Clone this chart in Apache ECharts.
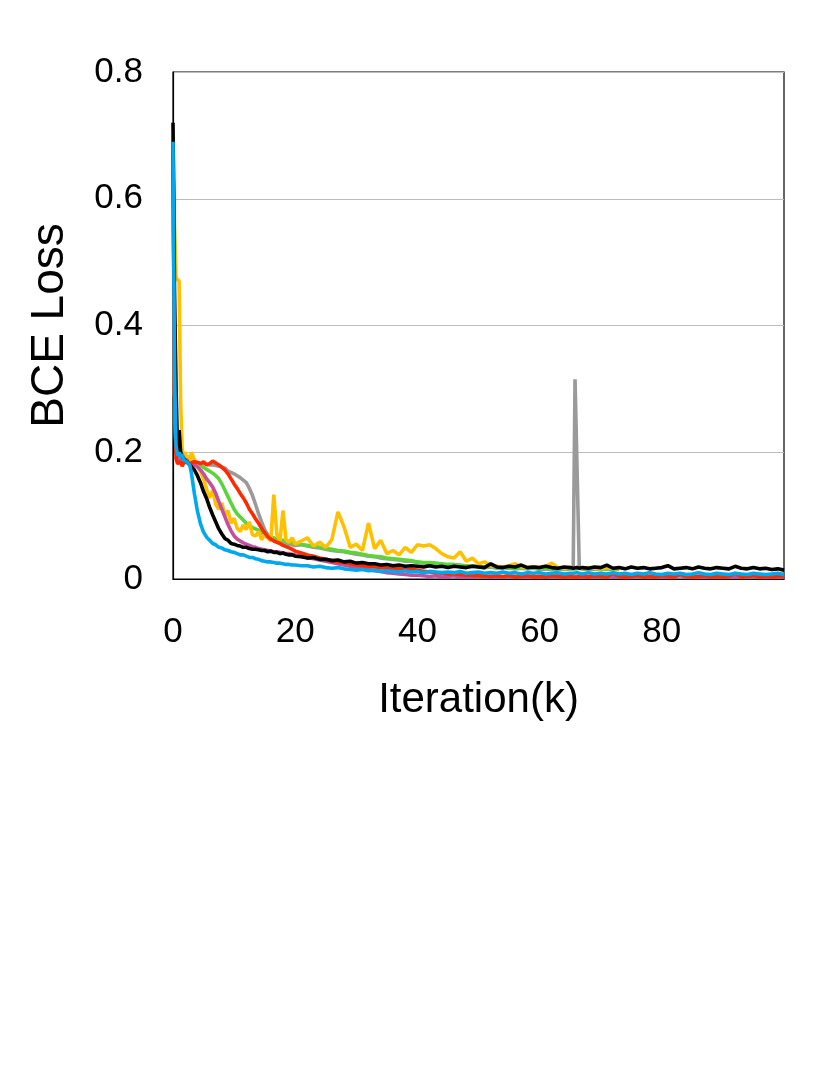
<!DOCTYPE html>
<html>
<head>
<meta charset="utf-8">
<script src="https://cdn.jsdelivr.net/npm/echarts@6/dist/echarts.min.js"></script>
<style>
html,body{margin:0;padding:0;background:#fff;}
#chart{width:830px;height:1075px;}
</style>
</head>
<body>
<div id="chart"></div>
<script>
// iteration (k) sample positions shared by all series
const iters = [0,0.25,0.5,0.75,1,1.25,1.5,1.75,2,2.25,2.5,2.75,3,
  3.5,4,4.5,5,5.5,6,6.5,7,7.5,8,8.5,9,9.5,10,10.5,11,11.5,12,12.5,13,13.5,14,14.5,15,15.5,16,16.5,17,17.5,18,18.5,19,19.5,20,
  21,22,23,24,25,26,27,28,29,30,31,32,33,34,35,36,37,38,39,40,41,42,43,44,45,46,47,48,49,50,51,52,53,54,55,56,57,58,59,60,61,62,63,64,65,
  65.5,65.8,66.1,66.5,
  67,68,69,70,71,72,73,74,75,76,77,78,79,80,81,82,83,84,85,86,87,88,89,90,91,92,93,94,95,96,97,98,99,100];

const xTicks = [0,20,40,60,80];
const yTicks = [0,0.2,0.4,0.6,0.8];

const N27 = [null,null,null,null,null,null,null,null,null,null,null,null,null,null,null,null,null,null,null,null,null,null,null,null,null,null,null];

const lossGray = [0.69,0.3,0.2,0.19,0.19,0.188,0.186,0.185,0.184,0.186,0.185,0.183,0.184,
  0.183,0.184,0.182,0.183,0.181,0.18,0.18,0.179,0.178,0.177,0.175,0.17,0.168,0.166,0.163,0.16,0.156,0.152,0.143,0.132,0.118,0.103,0.09,0.078,0.07,0.065,0.062,0.06,0.058,0.057,0.056,0.055,0.054,0.053,
  0.054,0.052,0.05,0.049,0.047,0.045,0.044,0.043,0.041,0.039,0.038,0.036,0.035,0.033,0.032,0.031,0.03,0.028,0.028,0.026,0.025,0.025,0.024,0.023,0.022,0.022,0.021,0.02,0.02,0.019,0.018,0.019,0.017,0.018,0.017,0.016,0.017,0.016,0.017,0.015,0.016,0.015,0.016,0.015,0.016,
  0.016,0.315,0.315,0.017,
  0.016,0.015,0.016,0.015,0.016,0.015,0.015].concat(N27);

const lossGreen = [0.68,0.3,0.2,0.195,0.19,0.195,0.19,0.192,0.188,0.19,0.186,0.188,0.185,
  0.184,0.182,0.18,0.176,0.173,0.17,0.167,0.163,0.158,0.15,0.14,0.13,0.12,0.11,0.103,0.098,0.093,0.088,0.085,0.081,0.079,0.077,0.073,0.07,0.068,0.066,0.065,0.063,0.062,0.061,0.06,0.058,0.057,0.056,
  0.055,0.053,0.052,0.05,0.048,0.047,0.045,0.044,0.042,0.041,0.039,0.037,0.036,0.035,0.033,0.032,0.031,0.03,0.029,0.027,0.026,0.026,0.025,0.024,0.023,0.023,0.022,0.021,0.021,0.02,0.019,0.02,0.018,0.019,0.018,0.017,0.018,0.017,0.018,0.016,0.017,0.016,0.017,0.016,0.017,
  0.016,0.017,0.016,0.017,
  0.016,0.017,0.016,0.015,0.016,0.015,0.016].concat(N27);

const lossYellow = [0.70,0.56,0.475,0.475,0.47,0.28,0.205,0.195,0.2,0.19,0.195,0.185,0.2,
  0.188,0.178,0.17,0.158,0.142,0.128,0.14,0.118,0.11,0.12,0.1,0.108,0.088,0.096,0.08,0.075,0.085,0.078,0.09,0.07,0.068,0.075,0.062,0.07,0.065,0.06,0.133,0.07,0.06,0.108,0.062,0.058,0.065,0.055,
  0.06,0.065,0.052,0.058,0.05,0.062,0.106,0.082,0.05,0.055,0.045,0.088,0.048,0.061,0.04,0.045,0.038,0.05,0.042,0.054,0.052,0.054,0.048,0.04,0.035,0.033,0.043,0.028,0.033,0.024,0.027,0.021,0.02,0.019,0.021,0.024,0.019,0.018,0.019,0.018,0.02,0.025,0.018,0.017,0.018,
  0.017,0.018,0.017,0.018,
  0.017,0.018,0.017,0.016,0.018,0.017,0.016].concat(N27);

const lossPink = [0.69,0.3,0.2,0.19,0.188,0.185,0.19,0.186,0.184,0.188,0.183,0.185,0.182,
  0.18,0.177,0.172,0.166,0.158,0.152,0.145,0.135,0.122,0.11,0.098,0.086,0.076,0.068,0.063,0.06,0.057,0.055,0.053,0.051,0.05,0.048,0.047,0.046,0.045,0.044,0.043,0.043,0.042,0.041,0.04,0.04,0.039,0.038,
  0.036,0.034,0.032,0.03,0.028,0.026,0.024,0.022,0.02,0.019,0.017,0.015,0.013,0.012,0.01,0.009,0.008,0.007,0.006,0.006,0.005,0.004,0.005,0.003,0.004,0.005,0.003,0.004,0.003,0.005,0.004,0.003,0.004,0.003,0.005,0.003,0.004,0.003,0.004,0.003,0.004,0.003,0.005,0.003,0.004,
  0.003,0.004,0.003,0.004,
  0.003,0.004,0.003,0.005,0.003,0.004,0.003,0.004,0.003,0.005,0.003,0.004,0.003,0.004,0.003,0.004,0.005,0.003,0.004,0.003,0.004,0.003,0.005,0.003,0.004,0.003,0.004,0.003,0.005,0.003,0.004,0.003,0.004,0.003];

const lossRed = [0.69,0.3,0.19,0.182,0.18,0.185,0.178,0.183,0.18,0.186,0.182,0.185,0.183,
  0.185,0.184,0.182,0.185,0.18,0.182,0.186,0.183,0.18,0.176,0.172,0.166,0.158,0.15,0.143,0.135,0.128,0.12,0.11,0.103,0.095,0.088,0.08,0.073,0.067,0.063,0.06,0.058,0.056,0.053,0.051,0.049,0.047,0.044,
  0.041,0.038,0.036,0.033,0.031,0.029,0.027,0.026,0.024,0.022,0.021,0.02,0.019,0.018,0.017,0.017,0.016,0.015,0.015,0.014,0.012,0.011,0.01,0.009,0.008,0.008,0.007,0.006,0.006,0.005,0.005,0.004,0.005,0.004,0.005,0.003,0.004,0.005,0.003,0.004,0.003,0.005,0.004,0.003,0.004,
  0.003,0.004,0.003,0.004,
  0.004,0.003,0.005,0.004,0.003,0.009,0.004,0.003,0.004,0.005,0.003,0.004,0.003,0.005,0.004,0.003,0.008,0.004,0.003,0.004,0.005,0.003,0.004,0.003,0.004,0.009,0.003,0.004,0.005,0.003,0.004,0.003,0.004,0.005];

const lossBlack = [0.72,0.45,0.3,0.2,0.235,0.2,0.195,0.19,0.188,0.185,0.183,0.18,0.178,
  0.172,0.163,0.152,0.138,0.127,0.113,0.101,0.09,0.079,0.071,0.064,0.061,0.056,0.055,0.053,0.052,0.05,0.05,0.048,0.047,0.047,0.046,0.045,0.045,0.043,0.044,0.042,0.042,0.04,0.041,0.039,0.038,0.038,0.036,
  0.035,0.033,0.034,0.031,0.031,0.029,0.03,0.027,0.028,0.025,0.026,0.024,0.024,0.022,0.023,0.021,0.022,0.02,0.021,0.02,0.019,0.021,0.019,0.02,0.018,0.02,0.019,0.018,0.02,0.019,0.018,0.024,0.019,0.018,0.02,0.019,0.022,0.018,0.019,0.018,0.02,0.018,0.017,0.019,0.018,
  0.017,0.019,0.018,0.017,
  0.018,0.017,0.019,0.018,0.022,0.017,0.018,0.016,0.019,0.017,0.018,0.016,0.017,0.018,0.021,0.016,0.017,0.018,0.016,0.019,0.017,0.016,0.018,0.017,0.016,0.02,0.017,0.016,0.018,0.016,0.017,0.015,0.016,0.014];

const lossBlue = [0.69,0.33,0.21,0.195,0.2,0.192,0.197,0.188,0.19,0.185,0.188,0.18,0.168,
  0.135,0.107,0.087,0.074,0.066,0.061,0.056,0.054,0.05,0.049,0.046,0.045,0.043,0.042,0.04,0.038,0.038,0.036,0.034,0.034,0.032,0.031,0.029,0.028,0.027,0.027,0.026,0.025,0.025,0.024,0.023,0.023,0.022,0.022,
  0.021,0.021,0.019,0.02,0.018,0.017,0.018,0.016,0.015,0.014,0.015,0.013,0.014,0.012,0.013,0.012,0.011,0.013,0.011,0.012,0.01,0.012,0.011,0.01,0.011,0.01,0.012,0.009,0.01,0.011,0.009,0.01,0.009,0.011,0.009,0.01,0.008,0.01,0.009,0.01,0.008,0.009,0.01,0.008,0.009,
  0.009,0.008,0.01,0.009,
  0.008,0.01,0.008,0.009,0.008,0.01,0.008,0.009,0.007,0.009,0.008,0.01,0.008,0.007,0.009,0.008,0.009,0.007,0.008,0.01,0.008,0.007,0.009,0.008,0.007,0.009,0.008,0.007,0.009,0.008,0.007,0.008,0.009,0.007];

const seriesDefs = [
  {name:'gray', color:'#9A9A9A', values:lossGray},
  {name:'green', color:'#5CD43A', values:lossGreen},
  {name:'yellow', color:'#FFC000', values:lossYellow},
  {name:'pink', color:'#C2509C', values:lossPink},
  {name:'red', color:'#FF2A00', values:lossRed},
  {name:'black', color:'#000000', values:lossBlack},
  {name:'blue', color:'#00A8F0', values:lossBlue}
];

const chart = echarts.init(document.getElementById('chart'), null, {renderer:'canvas'});
const FONT = '"Liberation Sans", Arial, Helvetica, sans-serif';

chart.setOption({
  animation:false,
  backgroundColor:'#ffffff',
  grid:{left:173, right:46, top:72, bottom:496, show:true, borderColor:'#000', borderWidth:1.2, backgroundColor:'transparent'},
  xAxis:{
    type:'value', min:0, max:100, interval:20,
    name:'Iteration(k)', nameLocation:'middle', nameGap:100,
    nameTextStyle:{fontSize:42, color:'#000', fontFamily:FONT},
    axisLine:{show:true, onZero:false, lineStyle:{color:'#000', width:1.2}},
    axisTick:{show:false},
    splitLine:{show:false},
    axisLabel:{fontSize:35, color:'#000', fontFamily:FONT, margin:36, showMaxLabel:false,
      formatter:function(v){return xTicks.indexOf(v)>=0 ? String(v) : '';}}
  },
  yAxis:{
    type:'value', min:0, max:0.8, interval:0.2,
    name:'BCE Loss', nameLocation:'middle', nameGap:100,
    nameTextStyle:{fontSize:46, color:'#000', fontFamily:FONT},
    axisLine:{show:true, lineStyle:{color:'#000', width:1.2}},
    axisTick:{show:false},
    splitLine:{show:true, lineStyle:{color:'#BDBDBD', width:1.2}},
    axisLabel:{fontSize:35, color:'#000', fontFamily:FONT, margin:30,
      formatter:function(v){
        for (const t of yTicks) { if (Math.abs(t-v)<1e-9) return String(t); }
        return '';
      }}
  },
  series: seriesDefs.map(function(s){
    return {
      name:s.name, type:'line', symbol:'none', showSymbol:false,
      data: iters.map(function(x,i){ return [x, s.values[i]]; }),
      connectNulls:false,
      lineStyle:{color:s.color, width:3.6, join:'bevel'},
      itemStyle:{color:s.color},
      emphasis:{disabled:true},
      z:2
    };
  })
});
</script>
</body>
</html>
